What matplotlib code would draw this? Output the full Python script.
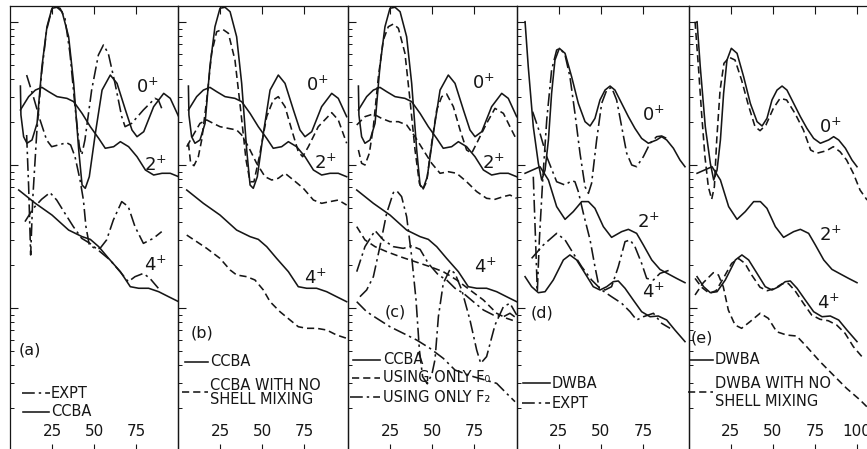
import numpy as np
import matplotlib
matplotlib.use("Agg")
import matplotlib.pyplot as plt
from matplotlib.lines import Line2D
from matplotlib.ticker import LogLocator, NullFormatter

# ---------------- data (angle in degrees, log10 of cross section) ----------------
# CCBA (panels a, b, c)
ccba0_th = [6.2, 6.5, 8.1, 10.1, 13.1, 16.1, 19.0, 22.0, 25.0, 28.0, 31.0, 34.9, 37.9, 40.9, 42.9,
            44.8, 47.2, 50.8, 54.8, 59.7, 63.7, 68.7, 72.6, 75.6, 79.6, 85.5, 91.5, 95.4, 100.4]
ccba0_lg = [2.552, 2.350, 2.198, 2.152, 2.175, 2.291, 2.688, 2.967, 3.096, 3.103, 3.072, 2.897, 2.571,
            2.105, 1.860, 1.837, 1.918, 2.221, 2.524, 2.629, 2.571, 2.385, 2.245, 2.198, 2.233, 2.408,
            2.501, 2.466, 2.338]
ccba2_th = [6.2, 11.1, 15.1, 19.0, 23.0, 28.0, 33.9, 37.9, 42.9, 47.8, 52.8, 56.7, 61.7, 65.7, 70.6,
            75.6, 80.6, 85.5, 90.5, 95.4, 100.4]
ccba2_lg = [2.385, 2.478, 2.524, 2.543, 2.513, 2.478, 2.466, 2.443, 2.361, 2.268, 2.186, 2.117, 2.128,
            2.163, 2.128, 2.058, 1.965, 1.930, 1.942, 1.942, 1.918]
ccba4_th = [5.2, 15.1, 25.0, 34.9, 42.9, 47.8, 52.8, 58.7, 65.7, 71.6, 76.6, 82.5, 88.5, 94.4, 100.4]
ccba4_lg = [1.825, 1.732, 1.650, 1.545, 1.499, 1.480, 1.429, 1.347, 1.254, 1.149, 1.138, 1.138, 1.114,
            1.079, 1.044]

# EXPT as drawn in panel (a)
expa0_th = [9.9, 11.1, 12.3, 13.5, 15.9, 18.8, 21.8, 24.8, 26.8, 29.8, 32.7, 35.7, 38.7, 41.3, 42.7,
            44.6, 48.6, 52.6, 55.6, 58.5, 62.5, 66.5, 68.5, 72.4, 79.4, 86.3, 88.3, 90.3]
expa0_lg = [2.210, 1.848, 1.371, 1.755, 2.221, 2.641, 2.944, 3.084, 3.107, 3.096, 3.026, 2.781, 2.408,
            2.128, 2.070, 2.175, 2.524, 2.769, 2.839, 2.781, 2.571, 2.338, 2.268, 2.291, 2.385, 2.466,
            2.455, 2.396]
expa2_th = [9.9, 13.9, 17.9, 21.8, 24.8, 28.8, 33.7, 36.1, 38.7, 41.7, 43.7, 45.2, 47.2, 50.6, 53.6,
            57.5, 61.5, 66.5, 70.4, 74.4, 79.4, 85.3, 90.3]
expa2_lg = [2.629, 2.478, 2.315, 2.175, 2.128, 2.140, 2.156, 2.140, 2.058, 1.895, 1.755, 1.569, 1.441,
            1.417, 1.417, 1.476, 1.615, 1.744, 1.709, 1.569, 1.452, 1.487, 1.534]
expa4_th = [8.9, 13.9, 18.8, 23.8, 27.8, 32.7, 37.7, 42.7, 47.6, 53.6, 59.5, 65.5, 70.4, 74.4, 79.4,
            83.3, 88.3]
expa4_lg = [1.604, 1.697, 1.760, 1.807, 1.755, 1.662, 1.569, 1.487, 1.452, 1.394, 1.336, 1.254, 1.184,
            1.219, 1.242, 1.207, 1.138]

# CCBA with no shell mixing (panel b)
nsm0_th = [6.2, 7.5, 9.5, 12.1, 14.1, 17.1, 20.0, 23.0, 26.6, 30.0, 33.9, 37.3, 40.5, 42.9, 45.2,
           48.4, 52.8, 56.7, 59.7, 63.7, 67.7, 71.6, 74.2, 77.6, 83.5, 91.5, 95.4, 100.4]
nsm0_lg = [2.152, 2.016, 1.995, 2.058, 2.175, 2.455, 2.781, 2.932, 2.949, 2.921, 2.734, 2.385, 2.035,
           1.883, 1.883, 2.058, 2.338, 2.455, 2.478, 2.408, 2.245, 2.093, 2.058, 2.128, 2.268, 2.366,
           2.315, 2.152]
nsm2_th = [5.2, 9.1, 13.1, 17.1, 21.0, 25.0, 30.0, 34.9, 37.9, 41.9, 46.8, 51.8, 55.8, 59.7, 63.7,
           68.7, 74.6, 80.6, 85.5, 90.5, 95.4, 100.4]
nsm2_lg = [2.128, 2.210, 2.291, 2.315, 2.291, 2.268, 2.256, 2.245, 2.210, 2.128, 2.012, 1.918, 1.895,
           1.907, 1.942, 1.895, 1.837, 1.755, 1.732, 1.744, 1.755, 1.720]
nsm4_th = [5.2, 11.1, 17.1, 25.0, 31.0, 34.9, 40.9, 45.8, 50.8, 54.8, 60.7, 66.7, 71.6, 76.6, 82.5,
           88.5, 94.4, 100.4]
nsm4_lg = [1.510, 1.464, 1.417, 1.347, 1.266, 1.231, 1.219, 1.196, 1.126, 1.044, 0.974, 0.916, 0.869,
           0.858, 0.858, 0.846, 0.811, 0.788]

# Using only F0 (panel c)
f0_0_th = [6.2, 8.1, 10.1, 12.7, 15.1, 18.1, 21.0, 24.0, 27.0, 30.0, 33.9, 36.9, 39.9, 42.5, 44.4,
           46.8, 49.8, 52.8, 55.8, 58.7, 62.7, 66.7, 70.6, 73.6, 76.6, 82.5, 87.5, 92.5, 96.4, 100.4]
f0_0_lg = [2.105, 2.012, 2.000, 2.082, 2.268, 2.618, 2.874, 2.967, 2.986, 2.956, 2.781, 2.455, 2.105,
           1.872, 1.825, 1.883, 2.152, 2.385, 2.478, 2.497, 2.408, 2.245, 2.105, 2.082, 2.152, 2.291,
           2.396, 2.361, 2.268, 2.175]
f0_2_th = [5.2, 10.1, 15.1, 20.0, 25.0, 30.0, 34.9, 39.9, 44.8, 49.8, 54.8, 59.7, 64.7, 70.6, 76.6,
           82.5, 87.5, 92.5, 96.4, 100.4]
f0_2_lg = [2.280, 2.338, 2.357, 2.326, 2.303, 2.303, 2.280, 2.198, 2.105, 2.012, 1.942, 1.953, 1.942,
           1.883, 1.814, 1.767, 1.760, 1.779, 1.790, 1.767]
f0_4_th = [5.2, 10.1, 16.1, 23.0, 31.0, 39.9, 48.8, 56.7, 64.7, 72.6, 80.6, 88.5, 94.4, 100.4]
f0_4_lg = [1.569, 1.476, 1.429, 1.394, 1.359, 1.324, 1.289, 1.254, 1.196, 1.126, 1.056, 0.963, 0.928,
           0.904]
# Using only F2 (panel c)
f2_0_th = [7.1, 11.1, 15.1, 19.0, 23.0, 27.0, 29.0, 31.9, 34.9, 37.9, 40.5, 42.5, 44.4, 47.2, 50.0,
           51.8, 53.8, 56.7, 60.7, 63.7, 67.7, 72.6, 76.6, 79.0, 82.5, 87.5, 92.5, 96.4, 100.4]
f2_0_lg = [1.079, 1.126, 1.219, 1.429, 1.662, 1.807, 1.820, 1.779, 1.639, 1.359, 1.056, 0.706, 0.520,
           0.470, 0.540, 0.640, 0.939, 1.172, 1.270, 1.242, 1.126, 0.916, 0.706, 0.613, 0.660, 0.881,
           1.009, 1.033, 0.951]
f2_2_th = [5.2, 11.1, 17.1, 25.0, 32.9, 40.9, 48.8, 56.7, 63.7, 74.6, 88.5, 94.4, 99.4]
f2_2_lg = [1.044, 0.974, 0.928, 0.869, 0.823, 0.776, 0.718, 0.648, 0.566, 0.520, 0.473, 0.403, 0.345]
f2_4_th = [5.2, 10.1, 16.1, 21.0, 27.0, 32.9, 37.9, 42.9, 47.8, 53.8, 58.7, 63.7, 68.7, 74.6, 80.6,
           86.5, 92.5, 96.4, 100.4]
f2_4_lg = [1.254, 1.429, 1.541, 1.476, 1.429, 1.417, 1.434, 1.410, 1.312, 1.231, 1.196, 1.138, 1.103,
           1.044, 0.986, 0.951, 0.939, 0.963, 0.928]

# DWBA (panels d, e)
dw0_th = [4.8, 6.7, 9.7, 12.7, 14.7, 16.7, 18.7, 20.6, 22.6, 25.2, 28.6, 32.5, 36.5, 40.5, 43.5, 46.4,
          49.4, 52.4, 55.4, 58.3, 62.3, 66.3, 70.2, 74.2, 78.2, 83.1, 86.1, 89.1, 93.1, 97.0, 100.0]
dw0_lg = [3.002, 2.688, 2.268, 2.012, 1.895, 1.965, 2.175, 2.501, 2.734, 2.816, 2.781, 2.618, 2.431,
          2.303, 2.273, 2.326, 2.455, 2.524, 2.552, 2.524, 2.431, 2.338, 2.256, 2.186, 2.152, 2.175,
          2.198, 2.175, 2.117, 2.035, 1.988]
dw2_th = [4.8, 13.7, 18.7, 23.6, 28.6, 33.5, 38.5, 42.5, 46.4, 51.4, 56.3, 62.3, 66.3, 71.2, 75.2,
          80.2, 85.1, 90.1, 95.0, 100.0]
dw2_lg = [1.942, 1.988, 1.895, 1.709, 1.620, 1.674, 1.744, 1.744, 1.697, 1.569, 1.494, 1.534, 1.550,
          1.522, 1.441, 1.336, 1.270, 1.238, 1.207, 1.177]
dw4_th = [4.8, 8.7, 12.7, 16.7, 21.6, 27.6, 31.5, 35.5, 40.5, 45.4, 49.4, 53.4, 57.3, 60.3, 64.3, 69.2,
          74.2, 79.2, 84.1, 89.1, 94.0, 100.0]
dw4_lg = [1.219, 1.149, 1.107, 1.114, 1.196, 1.336, 1.371, 1.336, 1.242, 1.149, 1.126, 1.149, 1.184,
          1.189, 1.138, 1.056, 0.974, 0.939, 0.944, 0.916, 0.846, 0.765]

# EXPT as drawn in panel (d)
expd0_th = [9.7, 10.9, 12.1, 13.3, 15.3, 17.7, 20.6, 23.6, 25.6, 28.6, 31.5, 34.5, 37.5, 40.5, 42.5,
            44.4, 47.4, 50.4, 53.4, 56.3, 59.3, 62.3, 65.3, 68.3, 71.2, 75.2, 79.2, 83.1, 86.1, 89.1]
expd0_lg = [1.918, 1.522, 1.114, 1.476, 1.895, 2.315, 2.664, 2.804, 2.816, 2.769, 2.618, 2.361, 2.082,
            1.848, 1.802, 1.872, 2.175, 2.431, 2.524, 2.543, 2.455, 2.268, 2.082, 2.000, 1.988, 2.058,
            2.152, 2.198, 2.203, 2.186]
expd2_th = [9.3, 13.7, 17.7, 23.6, 28.6, 32.5, 34.5, 36.5, 39.5, 43.5, 46.4, 49.0, 52.4, 56.3, 60.3,
            64.3, 67.3, 70.2, 74.2, 77.2, 81.2, 85.1, 91.1]
expd2_lg = [2.373, 2.221, 2.058, 1.883, 1.860, 1.890, 1.883, 1.814, 1.662, 1.476, 1.289, 1.138, 1.126,
            1.149, 1.289, 1.464, 1.476, 1.429, 1.312, 1.207, 1.196, 1.242, 1.266]
expd4_th = [8.7, 15.7, 23.6, 28.6, 33.5, 38.5, 44.4, 50.4, 56.3, 62.3, 67.3, 71.2, 75.2, 81.2, 86.1, 91.1]
expd4_lg = [1.347, 1.441, 1.522, 1.476, 1.382, 1.289, 1.196, 1.126, 1.079, 1.033, 0.974, 0.916, 0.939,
            0.963, 0.893, 0.858]

# DWBA with no shell mixing (panel e)
nse0_th = [3.6, 5.6, 7.5, 9.5, 11.5, 13.5, 15.1, 16.5, 18.5, 20.8, 24.0, 27.4, 31.3, 35.3, 39.3, 42.3,
           45.8, 50.2, 54.2, 58.1, 63.1, 68.1, 72.4, 76.0, 81.9, 85.9, 89.9, 93.8, 97.8, 101.8, 106.0]
nse0_lg = [3.002, 2.688, 2.361, 2.058, 1.848, 1.760, 1.848, 2.175, 2.524, 2.711, 2.753, 2.734, 2.594,
           2.420, 2.268, 2.240, 2.280, 2.396, 2.466, 2.455, 2.361, 2.245, 2.105, 2.082, 2.100, 2.128,
           2.093, 2.035, 1.942, 1.825, 1.755]
nse4_th = [3.6, 7.5, 12.1, 16.1, 20.4, 25.4, 29.4, 33.3, 37.3, 42.3, 46.6, 51.2, 55.2, 59.1, 63.1,
           68.1, 73.0, 78.0, 82.9, 87.9, 92.9, 97.8, 103.8]
nse4_lg = [1.207, 1.145, 1.103, 1.121, 1.207, 1.312, 1.347, 1.312, 1.231, 1.145, 1.121, 1.138, 1.168,
           1.172, 1.121, 1.033, 0.951, 0.921, 0.911, 0.881, 0.823, 0.730, 0.648]
nse2_th = [3.6, 8.5, 14.5, 17.5, 20.4, 23.4, 27.4, 31.3, 36.3, 42.3, 47.2, 52.2, 58.1, 64.1, 70.0,
           78.0, 85.9, 93.8, 101.8, 106.0]
nse2_lg = [1.091, 1.177, 1.247, 1.231, 1.149, 0.986, 0.881, 0.858, 0.904, 0.963, 0.928, 0.834, 0.811,
           0.804, 0.730, 0.625, 0.531, 0.438, 0.357, 0.308]

xtick_vals = [25, 50, 75]
xtick_vals_e = [25, 50, 75, 100]
state_labels = ["0$^{+}$", "2$^{+}$", "4$^{+}$"]
panel_tags = ["(a)", "(b)", "(c)", "(d)", "(e)"]

# ---------------- layout / style ----------------
W, H = 867, 449
INK = "#161616"
plt.rcParams["font.family"] = ["DejaVu Sans"]
plt.rcParams["mathtext.fontset"] = "dejavusans"
fig = plt.figure(figsize=(W / 100, H / 100), dpi=100)
fig.patch.set_facecolor("white")

panel_left = [10, 178, 348, 517, 689]
panel_right = [178, 348, 517, 689, 880]
PX_PER_DEG = 1.68
Y_TOP, Y_BOT = 6, 452
ZERO_PX, DECADE_PX = 451, 143

STY = {"solid": "-", "dash": (0, (4.5, 2.5)), "dashdot": (0, (8, 2.5, 1.5, 2.5))}
LW = 1.15


def fx(px):
    return px / W


def fy(py):
    return 1 - py / H


axes = []
for i, (l, r) in enumerate(zip(panel_left, panel_right)):
    ax = fig.add_axes([fx(l), fy(Y_BOT), (r - l) / W, (Y_BOT - Y_TOP) / H])
    ax.set_xlim(0, (r - l) / PX_PER_DEG)
    ax.set_yscale("log")
    ax.set_ylim(10 ** ((ZERO_PX - Y_BOT) / DECADE_PX), 10 ** ((ZERO_PX - Y_TOP) / DECADE_PX))
    ax.yaxis.set_major_locator(LogLocator(base=10, numticks=10))
    ax.yaxis.set_minor_locator(LogLocator(base=10, subs=np.arange(2, 10), numticks=20))
    ax.yaxis.set_major_formatter(NullFormatter())
    ax.yaxis.set_minor_formatter(NullFormatter())
    ax.tick_params(axis="y", which="major", direction="in", length=6, width=0.8, color=INK,
                   left=True, right=False)
    ax.tick_params(axis="y", which="minor", direction="in", length=3, width=0.7, color=INK,
                   left=True, right=False)
    ticks = xtick_vals_e if i == 4 else xtick_vals
    ax.set_xticks(ticks)
    ax.set_xticklabels([str(v) for v in ticks])
    ax.xaxis.set_minor_locator(matplotlib.ticker.NullLocator())
    ax.tick_params(axis="x", which="major", direction="in", length=6, width=0.8, color=INK,
                   top=True, bottom=True, pad=-20, labelsize=11, labelcolor=INK)
    for s in ax.spines.values():
        s.set_linewidth(0.9)
        s.set_color(INK)
    ax.spines["bottom"].set_visible(False)
    ax.set_facecolor("none")
    axes.append(ax)


def curve(ax, th, lg, style):
    ax.plot(th, np.power(10.0, lg), color=INK, lw=LW, linestyle=STY[style],
            solid_joinstyle="round", dash_capstyle="butt")


ax_a, ax_b, ax_c, ax_d, ax_e = axes

# (a) EXPT vs CCBA
for th, lg in [(ccba0_th, ccba0_lg), (ccba2_th, ccba2_lg), (ccba4_th, ccba4_lg)]:
    curve(ax_a, th, lg, "solid")
for th, lg in [(expa0_th, expa0_lg), (expa2_th, expa2_lg), (expa4_th, expa4_lg)]:
    curve(ax_a, th, lg, "dashdot")

# (b) CCBA vs no shell mixing
for th, lg in [(ccba0_th, ccba0_lg), (ccba2_th, ccba2_lg), (ccba4_th, ccba4_lg)]:
    curve(ax_b, th, lg, "solid")
for th, lg in [(nsm0_th, nsm0_lg), (nsm2_th, nsm2_lg), (nsm4_th, nsm4_lg)]:
    curve(ax_b, th, lg, "dash")

# (c) CCBA vs only F0 / only F2
for th, lg in [(ccba0_th, ccba0_lg), (ccba2_th, ccba2_lg), (ccba4_th, ccba4_lg)]:
    curve(ax_c, th, lg, "solid")
for th, lg in [(f0_0_th, f0_0_lg), (f0_2_th, f0_2_lg), (f0_4_th, f0_4_lg)]:
    curve(ax_c, th, lg, "dash")
for th, lg in [(f2_0_th, f2_0_lg), (f2_2_th, f2_2_lg), (f2_4_th, f2_4_lg)]:
    curve(ax_c, th, lg, "dashdot")

# (d) DWBA vs EXPT
for th, lg in [(dw0_th, dw0_lg), (dw2_th, dw2_lg), (dw4_th, dw4_lg)]:
    curve(ax_d, th, lg, "solid")
for th, lg in [(expd0_th, expd0_lg), (expd2_th, expd2_lg), (expd4_th, expd4_lg)]:
    curve(ax_d, th, lg, "dashdot")

# (e) DWBA vs no shell mixing
for th, lg in [(dw0_th, dw0_lg), (dw2_th, dw2_lg), (dw4_th, dw4_lg)]:
    curve(ax_e, th, lg, "solid")
for th, lg in [(nse0_th, nse0_lg), (nse4_th, nse4_lg), (nse2_th, nse2_lg)]:
    curve(ax_e, th, lg, "dash")

# ---------------- annotations ----------------
state_pos = [
    [(147, 87), (155, 165), (155, 265)],
    [(317, 85), (325, 163), (315, 278)],
    [(483, 83), (493, 163), (485, 267)],
    [(653, 115), (648, 222), (653, 292)],
    [(830, 127), (830, 235), (828, 303)],
]
tag_pos = [(30, 350), (202, 333), (395, 312), (542, 313), (702, 338)]
for p in range(5):
    for k in range(3):
        x, y = state_pos[p][k]
        fig.text(fx(x), fy(y), state_labels[k], ha="center", va="center", fontsize=13, color=INK)
    fig.text(fx(tag_pos[p][0]), fy(tag_pos[p][1]), panel_tags[p], ha="center", va="center",
             fontsize=11.5, color=INK)


def legend_line(x0, x1, y, style):
    fig.add_artist(Line2D([fx(x0), fx(x1)], [fy(y), fy(y)], transform=fig.transFigure,
                          color=INK, lw=LW, linestyle=STY[style]))


def legend_text(x, y, s):
    fig.text(fx(x), fy(y), s, ha="left", va="center", fontsize=10.5, color=INK)


# (a)
legend_line(22, 50, 393, "dashdot"); legend_text(51, 393, "EXPT")
legend_line(23, 49, 412, "solid"); legend_text(51, 412, "CCBA")
# (b)
legend_line(185, 208, 362, "solid"); legend_text(210, 362, "CCBA")
legend_line(182, 208, 392, "dash"); legend_text(210, 385, "CCBA WITH NO"); legend_text(210, 400, "SHELL MIXING")
# (c)
legend_line(353, 380, 360, "solid"); legend_text(383, 360, "CCBA")
legend_line(352, 380, 378, "dash"); legend_text(383, 378, "USING ONLY F\u2080")
legend_line(350, 380, 397, "dashdot"); legend_text(383, 397, "USING ONLY F\u2082")
# (d)
legend_line(523, 550, 383, "solid"); legend_text(552, 383, "DWBA")
legend_line(522, 550, 403, "dashdot"); legend_text(552, 403, "EXPT")
# (e)
legend_line(690, 713, 360, "solid"); legend_text(715, 360, "DWBA")
legend_line(688, 713, 392, "dash"); legend_text(715, 383, "DWBA WITH NO"); legend_text(715, 401, "SHELL MIXING")

fig.savefig("out.png", dpi=100, facecolor="white")
